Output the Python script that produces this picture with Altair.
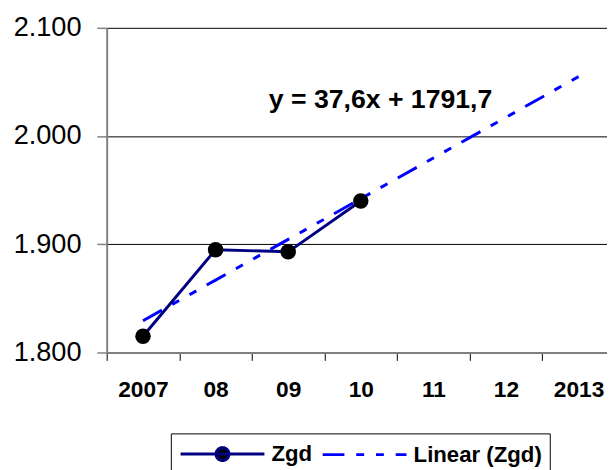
import math
import altair as alt
import pandas as pd

# ---- data ----
categories = ["2007", "08", "09", "10", "11", "12", "2013"]
zgd_categories = ["2007", "08", "09", "10"]
zgd_values = [1815, 1895, 1893, 1940]
trend_values = [1829.3, 1866.9, 1904.5, 1942.1, 1979.7, 2017.3, 2054.9]
y_ticks = [1800, 1900, 2000, 2100]
series_names = ["Zgd", "Linear (Zgd)"]
series_colors = ["#000080", "#0000FF"]
equation_text = ["y = 37,6x + 1791,7"]
equation_cat = ["10"]
equation_value = [2033]

FONT = "Liberation Sans"
DASH = [22, 12, 8, 12, 8, 12]

zgd_df = pd.DataFrame({"cat": zgd_categories, "value": zgd_values})
trend_df = pd.DataFrame({"cat": categories, "value": trend_values})
eq_df = pd.DataFrame({"cat": equation_cat, "value": equation_value, "label": equation_text})
legend_df = pd.DataFrame({"series": series_names, "cat": [categories[0]] * 2, "value": [y_ticks[0]] * 2})

x_enc = alt.X(
    "cat:O",
    sort=categories,
    scale=alt.Scale(type="band", domain=categories, range=[0, 515], paddingInner=0, paddingOuter=0),
    axis=alt.Axis(
        title=None, labelAngle=0, tickBand="extent", grid=False,
        domainColor="#808080", domainWidth=2, tickColor="black", tickSize=8, tickWidth=1,
        labelFont=FONT, labelFontSize=23, labelFontWeight="bold", labelColor="black", labelPadding=19,
    ),
)
y_enc = alt.Y(
    "value:Q",
    scale=alt.Scale(domain=[y_ticks[0], y_ticks[-1]], nice=False, zero=False),
    axis=alt.Axis(
        title=None, values=y_ticks, labelExpr="replace(format(datum.value, ',d'), ',', '.')",
        grid=True, gridColor="black", gridWidth=1,
        domainColor="#808080", domainWidth=2, tickColor="#808080", tickSize=10, tickWidth=1.5,
        labelFont=FONT, labelFontSize=27.5, labelColor="black", labelPadding=16,
    ),
)

# legend symbols: a line with a dot, and a plain line (unit coords scaled by the symbol size)
circle_pts = []
for i in range(24):
    a = 2 * math.pi * i / 24
    circle_pts.append(f"{3 + 0.62 * math.cos(a):.3f},{0.62 * math.sin(a):.3f}")
zgd_path = "M-1,0L7,0M" + "L".join(circle_pts) + "Z"
lin_path = "M-1,0L7,0"

legend_def = alt.Legend(
    title=None, orient="none", legendX=65, legendY=411, direction="horizontal",
    strokeColor="black", fillColor="white", padding=8,
    symbolSize=451, symbolStrokeWidth=3, symbolFillColor="black",
    labelFont=FONT, labelFontSize=22.5, labelFontWeight="bold", labelColor="black",
    labelOffset=69, columnPadding=3,
)

zgd_line = alt.Chart(zgd_df).mark_line(color=series_colors[0], strokeWidth=3).encode(x=x_enc, y=y_enc)
zgd_points = alt.Chart(zgd_df).mark_point(filled=True, color="black", size=246, opacity=1).encode(x=x_enc, y=y_enc)
trend_line = alt.Chart(trend_df).mark_line(color=series_colors[1], strokeWidth=3, strokeDash=DASH).encode(x=x_enc, y=y_enc)
eq_text = alt.Chart(eq_df).mark_text(
    font=FONT, fontSize=27, fontWeight="bold", color="black", align="center", baseline="middle", dx=20
).encode(x=x_enc, y=y_enc, text="label:N")

legend_layer = alt.Chart(legend_df).transform_filter("false").mark_point(
    filled=False, fill="black", strokeWidth=3, opacity=1
).encode(
    x=x_enc, y=y_enc,
    color=alt.Color("series:N", scale=alt.Scale(domain=series_names, range=series_colors), legend=legend_def),
    shape=alt.Shape("series:N", scale=alt.Scale(domain=series_names, range=[zgd_path, lin_path]), legend=legend_def),
    strokeDash=alt.StrokeDash("series:N", scale=alt.Scale(domain=series_names, range=[[1, 0], DASH]), legend=legend_def),
)

chart = alt.layer(trend_line, zgd_line, zgd_points, eq_text, legend_layer).properties(
    width=507, height=329,
    autosize=alt.AutoSizeParams(type="none"),
    padding={"left": 100, "top": 17, "right": 0, "bottom": 116},
    background="white",
).configure_view(stroke=None)

chart.save("out.html", embed_options={"renderer": "svg", "actions": False})
